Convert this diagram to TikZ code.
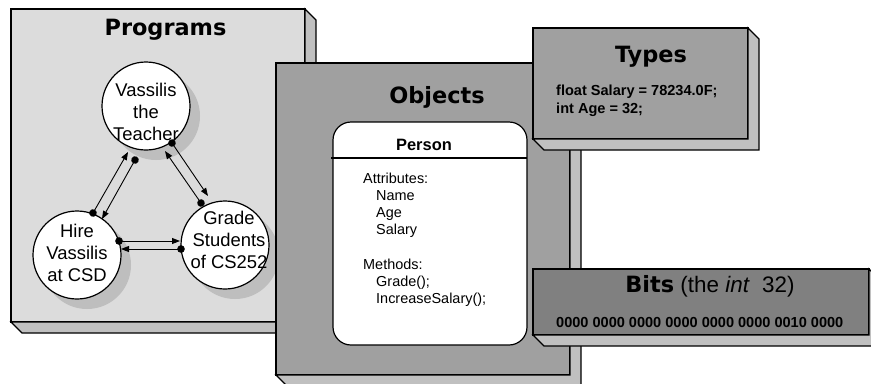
\documentclass[tikz,border=0pt]{standalone}
\usepackage{fontspec}
\setmainfont{Liberation Sans}
\newfontfamily\headfont{DejaVu Sans}
\usetikzlibrary{arrows.meta,calc,shadows}

\definecolor{paneLight}{HTML}{DCDCDC}
\definecolor{paneMid}{HTML}{A0A0A0}
\definecolor{paneDark}{HTML}{808080}
\definecolor{paneSide}{HTML}{C0C0C0}
\definecolor{ballShadow}{HTML}{BEBEBE}

% side and bottom faces of an extruded panel (depth 11)
\newcommand\slabsides[1]{%
  \filldraw[slabside] (#1.north east) -- ($(#1.north east)+(11,11)$)
    -- ($(#1.south east)+(11,11)$) -- ($(#1.south west)+(11,11)$)
    -- (#1.south west) -- (#1.south east) -- cycle;}

\tikzset{
  slabfront/.style={draw, line width=1.2bp, inner sep=0pt, outer sep=0pt, anchor=north west},
  slabside/.style={fill=paneSide, draw, line width=1.2bp, line join=miter},
  paneltitle/.style={font=\headfont\bfseries\fontsize{22.5}{27}\selectfont, anchor=base, inner sep=0pt},
  ball/.style={circle, draw, fill=white, line width=1.2bp, minimum size=88bp, inner sep=0pt,
    drop shadow={shadow xshift=10bp, shadow yshift=-10bp, fill=ballShadow, opacity=1}},
  balltext/.style={align=center, inner sep=0pt, font=\fontsize{18.5}{22}\selectfont},
  flowlink/.style={line width=0.9bp, {Circle[length=7.5bp]}-{Triangle[length=8bp,width=6bp]}, shorten <=-3.75bp},
  codetext/.style={font=\bfseries\fontsize{14.6}{18}\selectfont, inner sep=0pt, align=left},
}

\begin{document}
\begin{tikzpicture}[x=1bp,y=-1bp]
\clip (0,0) rectangle (871,383);
\fill[white] (0,0) rectangle (871,383);

% ---- Programs panel ----
\node[slabfront, fill=paneLight, minimum width=294bp, minimum height=313bp] (programs) at (11,9) {};
\slabsides{programs}
\node[paneltitle] (programstitle) at (165.5,35) {Programs};

\node[ball] (teach) at (146,106) {};
\node[ball] (hire) at (77,255) {};
\node[ball] (grade) at (225,245) {};

\node[balltext] (teachtext) at (146,112) {Vassilis\\the\\Teacher};
\node[balltext] (hiretext) at (77,253) {Hire\\Vassilis\\at CSD};
\node[balltext] (gradetext) at (229,240) {Grade\\Students\\of CS252};

\draw[flowlink] ($(hire)+(16,-42)$) -- ($(teach)+(-18,46)$);
\draw[flowlink] ($(teach)+(-11,54)$) -- ($(hire)+(25,-36)$);
\draw[flowlink] ($(teach)+(26,37)$) -- ($(grade)+(-17,-49)$);
\draw[flowlink] ($(grade)+(-24,-42)$) -- ($(teach)+(19,45)$);
\draw[flowlink] ($(hire)+(42,-14)$) -- ($(grade)+(-45,-4)$);
\draw[flowlink] ($(grade)+(-44,4)$) -- ($(hire)+(44,-6)$);

% ---- Objects panel ----
\node[slabfront, fill=paneMid, minimum width=294bp, minimum height=312bp] (objects) at (276,63) {};
\slabsides{objects}
\node[paneltitle] (objectstitle) at (437,103) {Objects};

\node[draw, fill=white, line width=1.2bp, rounded corners=18bp, minimum width=194bp,
      minimum height=223bp, inner sep=0pt, outer sep=0pt] (person) at (430,233.5) {};
\draw[line width=1.2bp] ($(person.north west)+(-2,36)$) -- ($(person.north east)+(0,36)$);
\node[anchor=base, inner sep=0pt, font=\bfseries\fontsize{16.5}{20}\selectfont] (personname) at (424,150) {Person};
\node[anchor=north west, inner sep=0pt, align=left, font=\fontsize{14.5}{17.3}\selectfont] (personbody) at (363,172.5)
  {Attributes:\\
   \hspace*{13bp}Name\\
   \hspace*{13bp}Age\\
   \hspace*{13bp}Salary\\
   \mbox{}\\
   Methods:\\
   \hspace*{13bp}Grade();\\
   \hspace*{13bp}IncreaseSalary();};

% ---- Types panel ----
\node[slabfront, fill=paneMid, minimum width=215bp, minimum height=111bp] (types) at (533,28) {};
\slabsides{types}
\node[paneltitle] (typestitle) at (651,62) {Types};
\node[codetext, anchor=north west] (typesbody) at (556,84.5) {float Salary = 78234.0F;\\int Age = 32;};

% ---- Bits panel ----
\node[slabfront, fill=paneDark, minimum width=336bp, minimum height=66bp] (bits) at (533,269) {};
\slabsides{bits}
\node[anchor=base, inner sep=0pt, font=\fontsize{22.5}{27}\selectfont] (bitstitle) at (710,292)
  {{\headfont\bfseries Bits} (the \textit{int}~~32)};
\node[codetext, anchor=west] (bitsbody) at (556,322) {0000 0000 0000 0000 0000 0000 0010 0000};
\end{tikzpicture}
\end{document}
